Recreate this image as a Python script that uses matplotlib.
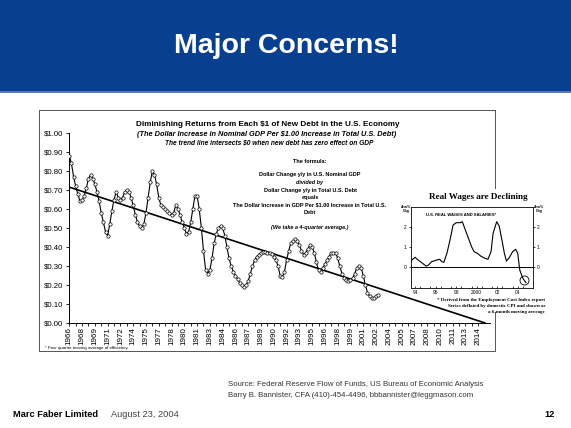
import numpy as np
import matplotlib.pyplot as plt

plt.rcParams['text.parse_math'] = False
plt.rcParams['font.family'] = ['Liberation Sans', 'DejaVu Sans']

W, H = 571, 428

# efficiency of debt: $ of GDP per $1 of new debt, 4-quarter average, quarterly from 1966 Q1
efficiency = [
    0.88, 0.84, 0.77, 0.72,     # 1966
    0.68, 0.64, 0.645, 0.67,    # 1967
    0.71, 0.76, 0.78, 0.76,     # 1968
    0.73, 0.69, 0.64, 0.58,     # 1969
    0.53, 0.48, 0.46, 0.52,     # 1970
    0.59, 0.65, 0.69, 0.66,     # 1971
    0.65, 0.66, 0.69, 0.70,     # 1972
    0.69, 0.66, 0.62, 0.57,     # 1973
    0.53, 0.51, 0.50, 0.52,     # 1974
    0.58, 0.66, 0.74, 0.80,     # 1975
    0.78, 0.73, 0.66, 0.62,     # 1976
    0.61, 0.60, 0.59, 0.58,     # 1977
    0.57, 0.58, 0.62, 0.60,     # 1978
    0.57, 0.53, 0.50, 0.47,     # 1979
    0.48, 0.53, 0.60, 0.67,     # 1980
    0.67, 0.60, 0.50, 0.38,     # 1981
    0.28, 0.26, 0.28, 0.34,     # 1982
    0.42, 0.47, 0.50, 0.51,     # 1983
    0.50, 0.46, 0.40, 0.34,     # 1984
    0.30, 0.27, 0.25, 0.23,     # 1985
    0.21, 0.20, 0.19, 0.20,     # 1986
    0.22, 0.26, 0.30, 0.33,     # 1987
    0.35, 0.36, 0.37, 0.375,    # 1988
    0.375, 0.37, 0.37, 0.365,   # 1989
    0.35, 0.33, 0.30, 0.25,     # 1990
    0.24, 0.27, 0.33, 0.38,     # 1991
    0.42, 0.43, 0.44, 0.43,     # 1992
    0.41, 0.38, 0.36, 0.37,     # 1993
    0.39, 0.41, 0.40, 0.37,     # 1994
    0.32, 0.28, 0.27, 0.29,     # 1995
    0.31, 0.33, 0.35, 0.37,     # 1996
    0.37, 0.37, 0.34, 0.30,     # 1997
    0.26, 0.235, 0.225, 0.22,   # 1998
    0.225, 0.235, 0.26, 0.29,   # 1999
    0.30, 0.29, 0.25, 0.20,     # 2000
    0.16, 0.14, 0.13, 0.13,     # 2001
    0.14, 0.15,                 # 2002
]
quarters = 1966 + 0.25 * np.arange(len(efficiency))

# trend line end points
trend_years = [1966, 2014.8]
trend_vals = [0.715, 0.0]

ytick_vals = [0.0, 0.1, 0.2, 0.3, 0.4, 0.5, 0.6, 0.7, 0.8, 0.9, 1.0]
ytick_labels = ["$0.00", "$0.10", "$0.20", "$0.30", "$0.40", "$0.50",
                "$0.60", "$0.70", "$0.80", "$0.90", "$1.00"]
xtick_labels = ["1966", "1968", "1969", "1971", "1972", "1974", "1975", "1977",
                "1978", "1980", "1981", "1983", "1984", "1986", "1987", "1989",
                "1990", "1992", "1993", "1995", "1996", "1998", "1999", "2001",
                "2002", "2004", "2005", "2007", "2008", "2010", "2011", "2013",
                "2014"]

# real wages inset (annual % change, 6-month moving average)
wage_years = [1993.6, 1994.0, 1994.3, 1994.65, 1995.07, 1995.3, 1995.6, 1996.1,
              1996.4, 1996.6, 1996.8, 1997.1, 1997.4, 1997.7, 1998.0, 1998.4,
              1998.6, 1998.9, 1999.2, 1999.5, 1999.75, 2000.07, 2000.4, 2000.8,
              2001.1, 2001.4, 2001.6, 2001.95, 2002.2, 2002.4, 2002.7, 2002.9,
              2003.2, 2003.5, 2003.8, 2004.0, 2004.2, 2004.5, 2004.8]
wage_vals = [0.30, 0.47, 0.33, 0.20, 0.03, 0.08, 0.25, 0.33,
             0.37, 0.25, 0.22, 0.67, 1.33, 2.08, 2.20, 2.20,
             2.25, 1.83, 1.42, 1.00, 0.75, 0.67, 0.53, 0.42,
             0.37, 0.75, 1.67, 2.25, 2.03, 1.50, 0.67, 0.28,
             0.47, 0.75, 0.87, 0.67, -0.17, -0.58, -0.80]
wage_xticks = [1994, 1996, 1998, 2000, 2002, 2004]
wage_xlabels = ["94", "96", "98", "2000", "02", "04"]
circle_year, circle_val = 2004.6, -0.67

fig = plt.figure(figsize=(W / 100, H / 100), dpi=100)

# background layer in pixel coordinates
bg = fig.add_axes([0, 0, 1, 1])
bg.set_xlim(0, W)
bg.set_ylim(H, 0)
bg.axis("off")
bg.add_patch(plt.Rectangle((0, 0), W, 91, color="#083f8e", lw=0))
bg.add_patch(plt.Rectangle((0, 91), W, 1.6, color="#5577b8", lw=0))
bg.text(286, 45.5, "Major Concerns!", color="white", fontsize=20.5,
        fontweight="bold", ha="center", va="center")

# frame of the scanned chart
fc = "#555555"
bg.plot([39, 495], [110, 110], color=fc, lw=0.7)
bg.plot([39, 495], [351, 351], color=fc, lw=0.7)
bg.plot([39, 39], [110, 351], color=fc, lw=0.7)
bg.plot([495, 495], [110, 188], color=fc, lw=0.7)
bg.plot([495, 495], [312, 351], color=fc, lw=0.7)

bg.text(267.5, 124, "Diminishing Returns from Each $1 of New Debt in the U.S. Economy",
        fontsize=5.9, fontweight="bold", ha="center", va="center")
bg.text(267, 135, "(The Dollar Increase in Nominal GDP Per $1.00 Increase in Total U.S. Debt)",
        fontsize=5.3, fontweight="bold", style="italic", ha="center", va="center")
bg.text(269, 142.7, "The trend line intersects $0 when new debt has zero effect on GDP",
        fontsize=4.8, fontweight="bold", style="italic", ha="center", va="center")

formula = [
    (161.7, "The formula:", "normal"),
    (174.5, "Dollar Change y/y in U.S. Nominal GDP", "normal"),
    (182.5, "divided by", "italic"),
    (190, "Dollar Change y/y in Total U.S. Debt", "normal"),
    (197.7, "equals", "normal"),
    (205.2, "The Dollar Increase in GDP Per $1.00 Increase in Total U.S.", "normal"),
    (212.7, "Debt", "normal"),
    (227.7, "(We take a 4-quarter average.)", "italic"),
]
for y, s, st in formula:
    bg.text(310, y, s, fontsize=4.0, fontweight="bold", style=st,
            ha="center", va="center")

bg.text(45, 348, "* Four quarter moving average of efficiency.", fontsize=3.2,
        ha="left", va="center")

# main chart
ax = fig.add_axes([69.3 / W, 1 - 323 / H, (490 - 69.3) / W, (323 - 133) / H])
ax.patch.set_alpha(0)
ax.plot(trend_years, trend_vals, color="black", lw=1.2, zorder=2)
ax.plot(quarters, efficiency, color="black", lw=0.8, marker="o", ms=2.4,
        mfc="white", mec="black", mew=0.5, zorder=3)
ax.set_xlim(1966, 1966 + (490 - 69.3) / 8.52)
ax.set_ylim(0, 1.0)
for s in ["top", "right"]:
    ax.spines[s].set_visible(False)
for s in ["left", "bottom"]:
    ax.spines[s].set_linewidth(0.7)
ax.set_yticks(ytick_vals)
ax.set_yticklabels(ytick_labels, fontsize=5.6)
ax.set_xticks(1966 + 1.5 * np.arange(len(xtick_labels)))
ax.set_xticklabels(xtick_labels, fontsize=5.8, rotation=90)
ax.set_xticks(1966.75 + 1.5 * np.arange(len(xtick_labels) - 1), minor=True)
ax.tick_params(axis="y", length=2.5, width=0.6, pad=2)
ax.tick_params(axis="x", which="both", length=2, width=0.6, pad=1)

# real wages inset
bg.text(478.7, 197.3, "Real Wages are Declining", family=["Liberation Serif"],
        fontsize=6.6, fontweight="bold", ha="center", va="center")
bg.text(461, 215, "U.S. REAL WAGES AND SALARIES*", fontsize=3, fontweight="bold",
        ha="center", va="center")
bg.text(406, 209, "Ann%\nChg", fontsize=2.5, fontweight="bold", ha="center",
        va="center", linespacing=1.0)
bg.text(539, 209, "Ann%\nChg", fontsize=2.5, fontweight="bold", ha="center",
        va="center", linespacing=1.0)
notes = ["* Derived from the Employment Cost Index report",
         "Series deflated by domestic CPI and shown as",
         "a 6-month moving average"]
for y, s in zip([300, 305.8, 311.6], notes):
    bg.text(545, y, s, family=["Liberation Serif"], fontsize=3.6,
            fontweight="bold", ha="right", va="center")

ax2 = fig.add_axes([411 / W, 1 - 288.3 / H, (532.7 - 411) / W, (288.3 - 206.7) / H])
ax2.patch.set_alpha(0)
ax2.plot(wage_years, wage_vals, color="black", lw=0.8)
ax2.axhline(0, color="black", lw=0.7)
ax2.plot(circle_year, circle_val, "o", mfc="none", mec="black", ms=6.5, mew=0.6)
ax2.set_xlim(1993.6, 2005.46)
ax2.set_ylim(-1.08, 3.0)
for s in ax2.spines.values():
    s.set_linewidth(0.6)
ax2.set_yticks([0, 1, 2])
ax2.set_yticklabels(["0", "1", "2"], fontsize=3.5)
ax2.set_xticks(wage_xticks)
ax2.set_xticklabels(wage_xlabels, fontsize=3.5)
ax2.set_xticks(np.arange(1994.5, 2005, 1.0), minor=True)
ax2.tick_params(axis="y", length=1.5, width=0.5, pad=1.5, right=True, labelright=True)
ax2.tick_params(axis="x", which="both", direction="in", length=1.8, width=0.5, pad=1)

# footer
bg.text(228, 384.8, "Source: Federal Reserve Flow of Funds, US Bureau of Economic Analysis",
        fontsize=5.6, color="#333333", ha="left", va="center")
bg.text(228, 395.3, "Barry B. Bannister, CFA (410)-454-4496, bbbannister@leggmason.com",
        fontsize=5.6, color="#333333", ha="left", va="center")
bg.text(12.7, 414.6, "Marc Faber Limited", fontsize=6.7, fontweight="bold",
        ha="left", va="center")
bg.text(111, 414.6, "August 23, 2004", fontsize=6.7, color="#444444",
        ha="left", va="center")
bg.text(555, 414.6, "12", fontsize=6.7, fontweight="bold", ha="right", va="center")

fig.savefig("out.png", dpi=100)
